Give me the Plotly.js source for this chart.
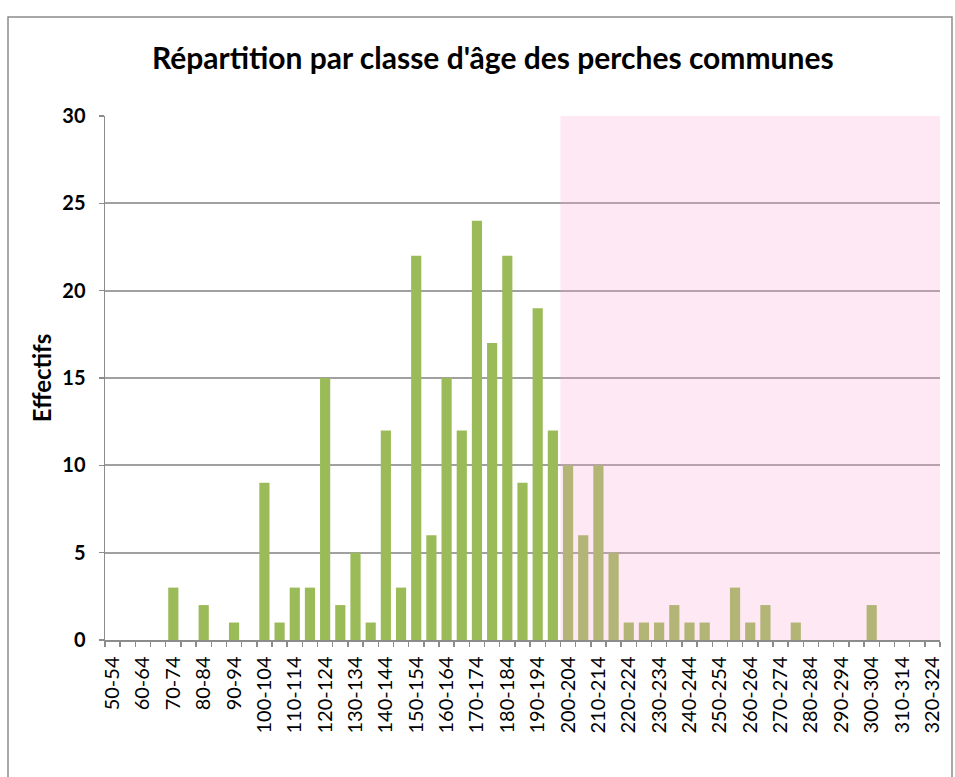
<!DOCTYPE html>
<html>
<head>
<meta charset="utf-8">
<script src="https://cdn.plot.ly/plotly-3.0.1.min.js"></script>
<style>html,body{margin:0;padding:0;background:#fff;}#chart{width:955px;height:777px;}</style>
</head>
<body>
<div id="chart"></div>
<script>
const categories = ["50-54","55-59","60-64","65-69","70-74","75-79","80-84","85-89","90-94","95-99",
  "100-104","105-109","110-114","115-119","120-124","125-129","130-134","135-139","140-144","145-149",
  "150-154","155-159","160-164","165-169","170-174","175-179","180-184","185-189","190-194","195-199",
  "200-204","205-209","210-214","215-219","220-224","225-229","230-234","235-239","240-244","245-249",
  "250-254","255-259","260-264","265-269","270-274","275-279","280-284","285-289","290-294","295-299",
  "300-304","305-309","310-314","315-319","320-324"];
const effectifs = [0,0,0,0,3,0,2,0,1,0,
  9,1,3,3,15,2,5,1,12,3,
  22,6,15,12,24,17,22,9,19,12,
  10,6,10,5,1,1,1,2,1,1,
  0,3,1,2,0,1,0,0,0,0,
  2,0,0,0,0];
const yTicks = [0,5,10,15,20,25,30];
const highlightStart = "200-204";
const highlightEnd = "320-324";

const xIdx = categories.map((c, i) => i);
const shownIdx = xIdx.filter(i => i % 2 === 0);
const shownText = shownIdx.map(i => categories[i]);
const boundaries = categories.map((c, i) => i - 0.5).concat([categories.length - 0.5]);

const FONT = "Lato, 'Liberation Sans', sans-serif";

const trace = {
  type: 'bar',
  x: xIdx,
  y: effectifs,
  text: categories,
  hoverinfo: 'text+y',
  marker: {color: '#9bbb59', line: {width: 0}},
  textposition: 'none'
};

const layout = {
  width: 955, height: 777,
  margin: {l: 105, r: 15, t: 116, b: 137},
  paper_bgcolor: '#ffffff',
  plot_bgcolor: '#ffffff',
  showlegend: false,
  bargap: 0.33,
  title: {
    text: "Répartition par classe d'âge des perches communes",
    font: {family: FONT, size: 30, color: '#000', weight: 'bold'},
    x: 0.516, xref: 'container', xanchor: 'center',
    y: 1 - 58/777, yref: 'container', yanchor: 'middle'
  },
  xaxis: {
    type: 'linear',
    range: [-0.5, categories.length - 0.5],
    tickmode: 'array',
    tickvals: shownIdx,
    ticktext: shownText,
    ticks: '',
    tickangle: -90,
    tickfont: {family: FONT, size: 20, color: '#000'},
    showgrid: false,
    zeroline: false,
    showline: true,
    linecolor: '#8c8c8c',
    linewidth: 1.5,
    ticklabelstandoff: 7,
    minor: {
      tickmode: 'array',
      tickvals: boundaries,
      ticks: 'outside',
      ticklen: 5,
      tickcolor: '#8c8c8c',
      tickwidth: 1.5,
      showgrid: false
    }
  },
  yaxis: {
    range: [0, 30],
    tickmode: 'array',
    tickvals: yTicks,
    ticktext: yTicks.map(String),
    ticks: 'outside',
    ticklen: 5,
    tickcolor: '#8c8c8c',
    tickwidth: 1.5,
    tickfont: {family: FONT, size: 20, color: '#000', weight: 'bold'},
    ticklabelstandoff: 9,
    showgrid: true,
    gridcolor: '#a0a0a0',
    gridwidth: 2,
    zeroline: false,
    showline: true,
    linecolor: '#8c8c8c',
    linewidth: 1.5,
    title: {text: 'Effectifs', font: {family: FONT, size: 24, color: '#000', weight: 'bold'}, standoff: 4}
  },
  shapes: [
    {type: 'rect', xref: 'x', yref: 'y', layer: 'above',
     x0: categories.indexOf(highlightStart) - 0.5, x1: categories.indexOf(highlightEnd) + 0.5,
     y0: 0, y1: 30,
     fillcolor: 'rgba(247,163,207,0.25)', line: {width: 0}},
    {type: 'rect', xref: 'paper', yref: 'paper', layer: 'above',
     x0: (8 - 105) / 835, x1: (952 - 105) / 835,
     y0: (640 - 800) / 524, y1: (640 - 17) / 524,
     fillcolor: 'rgba(0,0,0,0)', line: {color: '#8c8c8c', width: 1.5}}
  ]
};

Plotly.newPlot('chart', [trace], layout, {displayModeBar: false, staticPlot: true});
</script>
</body>
</html>
